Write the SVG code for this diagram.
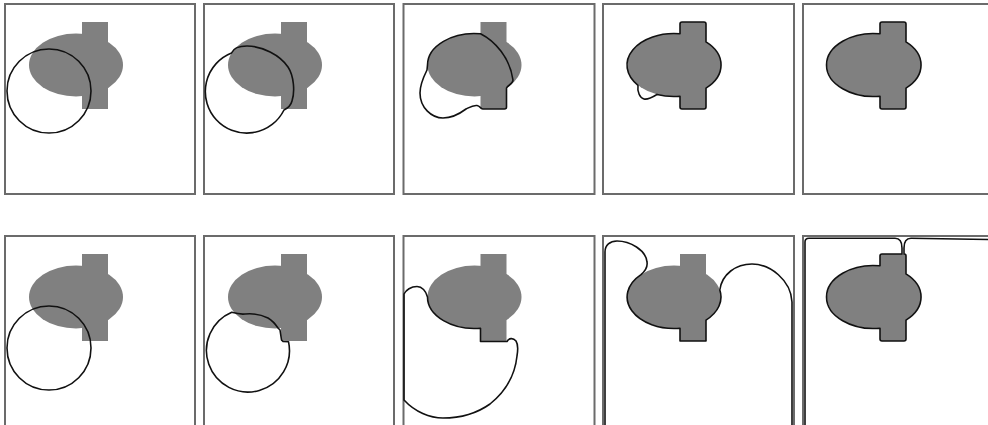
<svg xmlns="http://www.w3.org/2000/svg" xmlns:xlink="http://www.w3.org/1999/xlink" width="988" height="425" viewBox="0 0 988 425">
<style>
.frame{fill:#fff;stroke:#6b6b6b;stroke-width:2}
.obj{fill:#808080;stroke:none}
.c{fill:none;stroke:#111;stroke-width:1.6;stroke-linejoin:round;stroke-linecap:round}
</style>
<defs>
<g id="shape">
<ellipse class="obj" cx="71" cy="61" rx="47" ry="31.5"/>
<rect class="obj" x="77" y="18" width="26" height="87"/>
</g>
<path id="outline" class="c" d="M77,29.8 L77,20 Q77,18 79,18 L101,18 Q103,18 103,20 L103,37.9 A47,31.5 0 0 1 103,84.1 L103,103 Q103,105 101,105 L79,105 Q77,105 77,103 L77,92.2 A47,31.5 0 1 1 77,29.8 Z"/>
</defs>
<rect width="988" height="425" fill="#fff"/>

<g id="top-1">
<rect class="frame" x="5" y="4" width="190" height="190"/>
<use xlink:href="#shape" transform="translate(5,4)"/>
<circle class="c" cx="49" cy="91" r="42"/>
</g>

<g id="top-2">
<rect class="frame" x="204" y="4" width="190" height="190"/>
<use xlink:href="#shape" transform="translate(204,4)"/>
<path class="c" d="M231.5,53 C233,49 238,46 247,46 C262,46 280,55 288,67 C294,76 295,92 292,101 C291,105 288,108 284,110 A41.5,41.5 0 1 1 231.5,53 Z"/>
</g>

<g id="top-3">
<rect class="frame" x="403.5" y="4" width="191" height="190"/>
<use xlink:href="#shape" transform="translate(403.5,4)"/>
<path class="c" d="M427.5,65 A47,31.5 0 0 1 480.5,33.8 C495,41 510,58 513,80 C513,84 508,85 506.5,88 L506.5,107 Q506.5,109 504.5,109 L483,109 C481,109 480,106 477,105.5 C473,105 470,107 466,109 C458,115 450,118 443,118 C432,118 420,108 420,93 C420,85 424,76 427,70 Z"/>
</g>

<g id="top-4">
<rect class="frame" x="603" y="4" width="191" height="190"/>
<use xlink:href="#shape" transform="translate(603,4)"/>
<path class="c" d="M680,33.8 L680,24 Q680,22 682,22 L704,22 Q706,22 706,24 L706,41.9 A47,31.5 0 0 1 706,88.1 L706,107 Q706,109 704,109 L682,109 Q680,109 680,107 L680,96.2 A47,31.5 0 0 1 657,94.4 C652,97.5 648,100 644,99 C640,98 637,92 638,85.3 A47,31.5 0 0 1 680,33.8 Z"/>
</g>

<g id="top-5">
<rect class="frame" x="803" y="4" width="192" height="190"/>
<use xlink:href="#shape" transform="translate(803,4)"/>
<use xlink:href="#outline" transform="translate(803,4)"/>
</g>

<g id="bottom-1">
<rect class="frame" x="5" y="236" width="190" height="200"/>
<use xlink:href="#shape" transform="translate(5,236)"/>
<circle class="c" cx="49" cy="348" r="42"/>
</g>

<g id="bottom-2">
<rect class="frame" x="204" y="236" width="190" height="200"/>
<use xlink:href="#shape" transform="translate(204,236)"/>
<path class="c" d="M231.7,312.3 C236,313.5 240,314.5 245,314 C255,313 262,315 268,318 C273,321 276,325 278,328 L280,330 L281.5,340 L283,341.5 L288.5,341.7 A41.5,41.5 0 1 1 231.7,312.3 Z"/>
</g>

<g id="bottom-3">
<rect class="frame" x="403.5" y="236" width="191" height="200"/>
<use xlink:href="#shape" transform="translate(403.5,236)"/>
<path class="c" d="M404,400 L404,294 C406,290 411,286.5 417,286.5 C422,286.5 426,291 427.5,297 A47,31.5 0 0 0 480.5,328.2 L480.5,341.5 L507,341.5 C509,338 513,337.5 516,341 C518,344 518,350 517,356 C515,375 505,392 490,404 C476,414 460,418 443,418 C430,418 415,412 404,400 Z"/>
</g>

<g id="bottom-4">
<rect class="frame" x="603" y="236" width="191" height="200"/>
<use xlink:href="#shape" transform="translate(603,236)"/>
<path class="c" d="M605,425 L605,252 C605,245 610,241 617,241 C630,241 646,250 647,262 C648,268 644,272 641,274.6 A47,31.5 0 0 0 680,328.2 L680,341 L706,341 L706,320.1 A47,31.5 0 0 0 719.8,290 C722,274 736,264 752,264 C770,264 791,280 792,302 L792,425"/>
</g>

<g id="bottom-5">
<rect class="frame" x="803" y="236" width="192" height="200"/>
<use xlink:href="#shape" transform="translate(803,236)"/>
<path class="c" d="M805,425 L805,242 Q805,238.3 809,238.3 L895,238.3 C899.5,238.3 902,242 902,248 L902,254 L882,254 Q880,254 880,256 L880,265.8 A47,31.5 0 1 0 880,328.2 L880,339 Q880,341 882,341 L904,341 Q906,341 906,339 L906,320.1 A47,31.5 0 0 0 906,273.9 L906,256 Q906,254 904.5,254 L904,254 L904,248 C904,242 906.5,238.3 911,238.3 L988,239.5"/>
</g>
</svg>
